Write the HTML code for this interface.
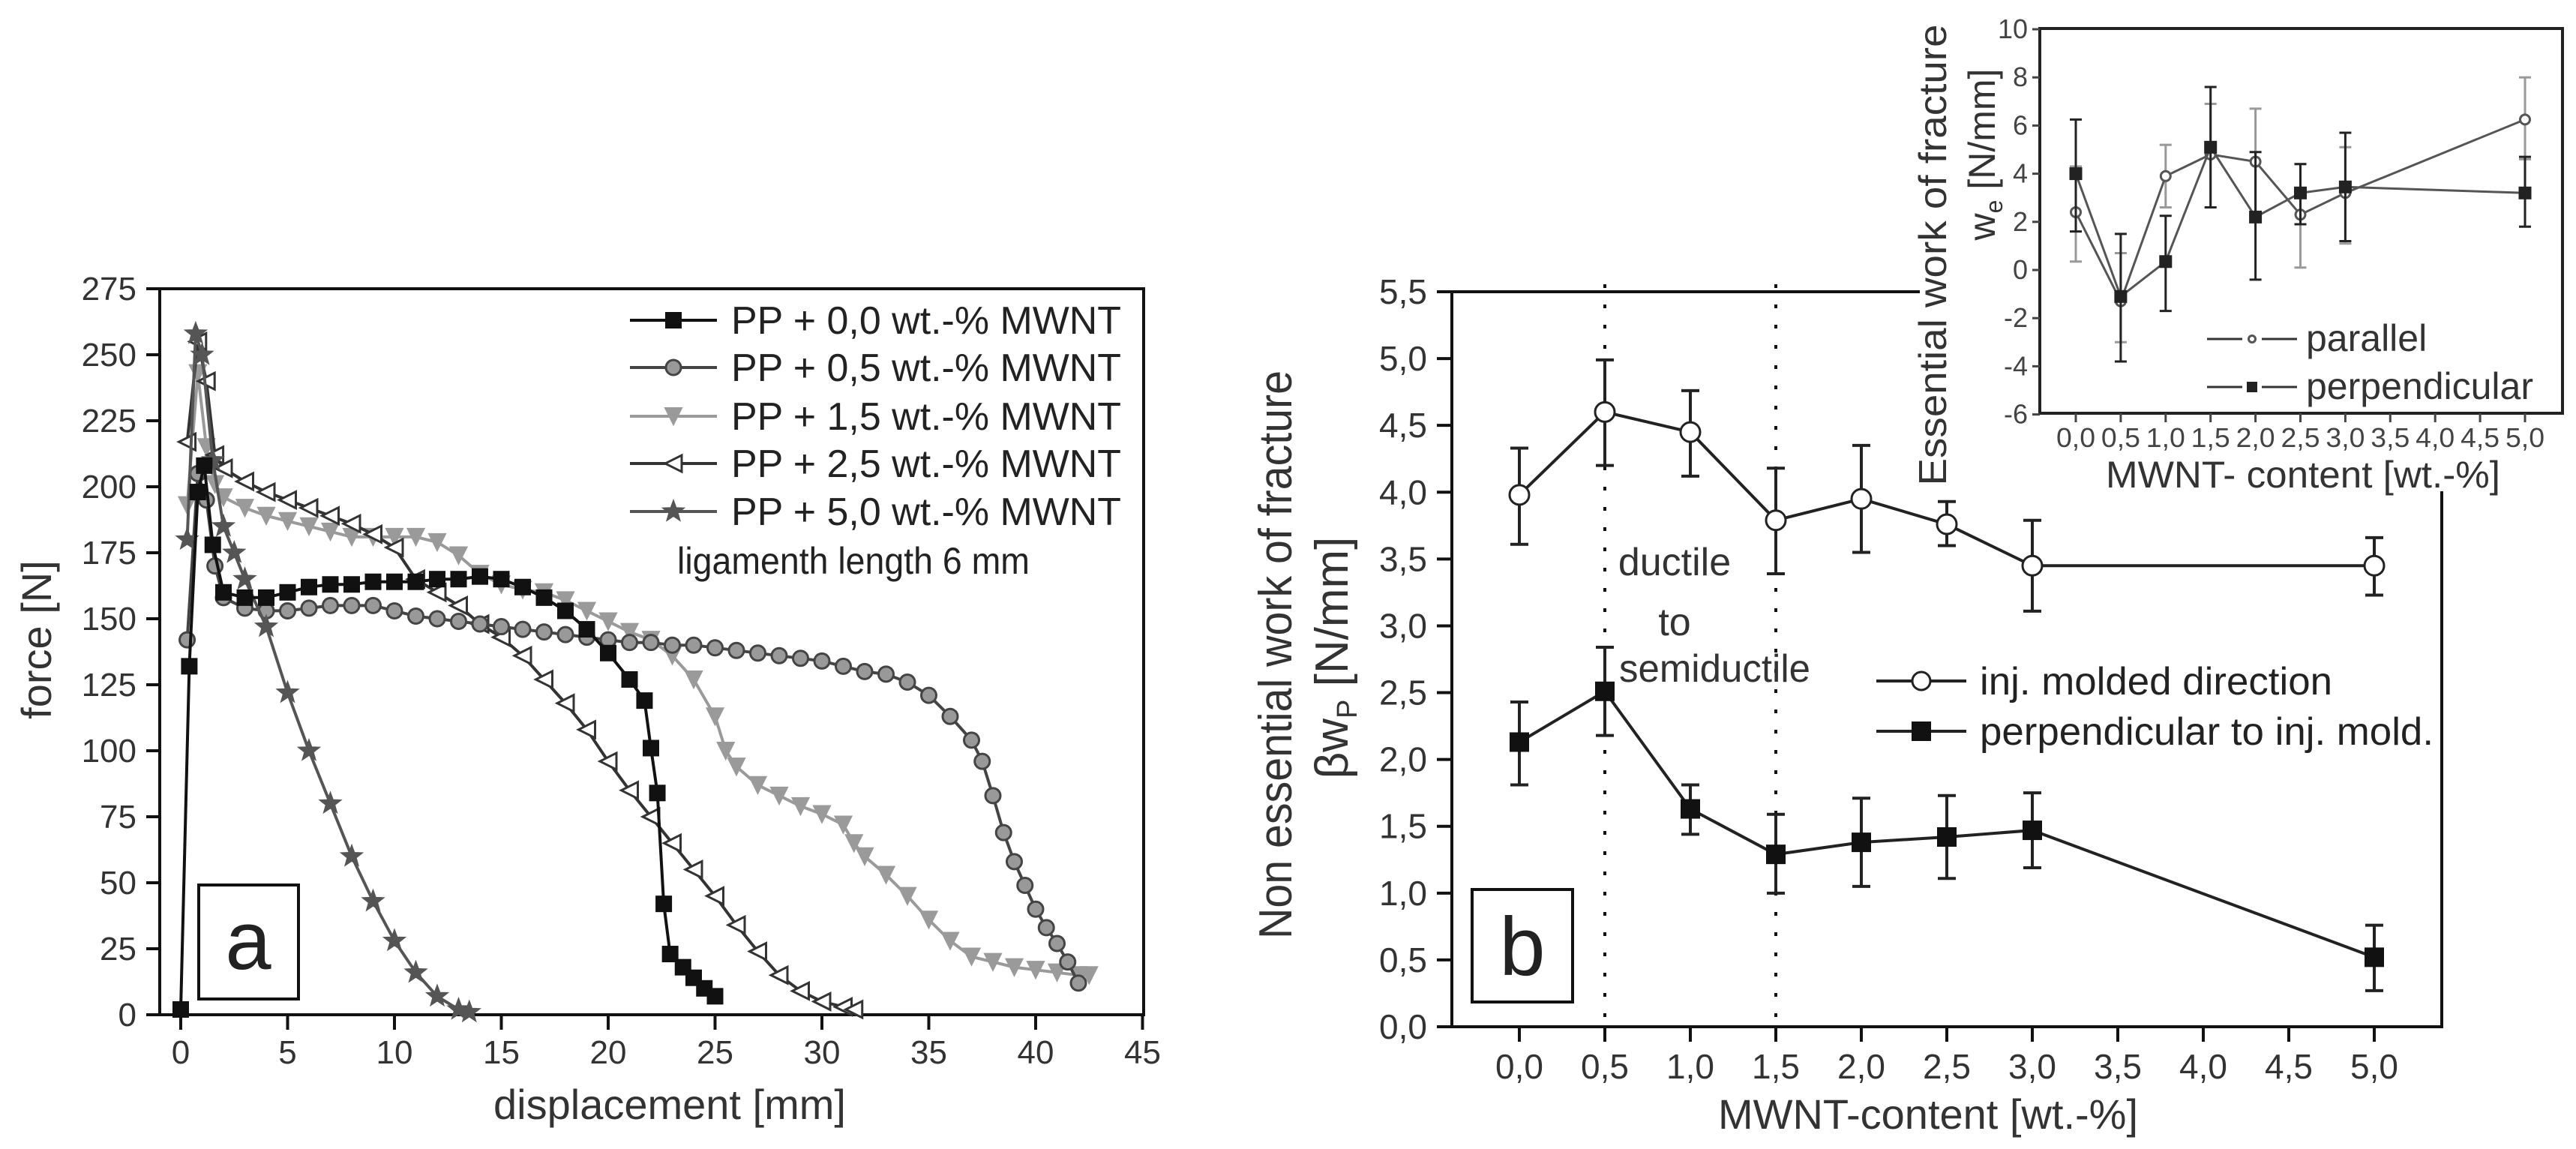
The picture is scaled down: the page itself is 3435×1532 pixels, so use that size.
<!DOCTYPE html>
<html><head><meta charset="utf-8"><title>Force-displacement curves and work of fracture</title>
<style>html,body{margin:0;padding:0;background:#fff;}svg{display:block;font-family:"Liberation Sans",Arial,sans-serif;}</style>
</head><body>
<svg id="fig" width="3435" height="1532" viewBox="0 0 3435 1532" xmlns="http://www.w3.org/2000/svg">
<rect width="3435" height="1532" fill="#fff"/>
<g id="pa"></g>
<g id="pb"></g>
<g id="pi"></g>
</svg>
<script>
// ---------- Panel a data ----------
const aXTicks = [0,5,10,15,20,25,30,35,40,45];
const aYTicks = [0,25,50,75,100,125,150,175,200,225,250,275];
const aSeriesNames = ["PP + 0,0 wt.-% MWNT","PP + 0,5 wt.-% MWNT","PP + 1,5 wt.-% MWNT","PP + 2,5 wt.-% MWNT","PP + 5,0 wt.-% MWNT"];
const a00x = [0,0.4,0.8,1.1,1.5,2,3,4,5,6,7,8,9,10,11,12,13,14,15,16,17,18,19,20,21,21.7,22,22.3,22.6,22.9,23.5,24,24.5,25];
const a00y = [2,132,198,208,178,160,158,158,160,162,163,163,164,164,164,165,165,166,165,162,158,153,146,137,127,119,101,84,42,23,18,14,10,7];
const a05x = [0.3,0.8,1.2,1.6,2,3,4,5,6,7,8,9,10,11,12,13,14,15,16,17,18,19,20,21,22,23,24,25,26,27,28,29,30,31,32,33,34,35,36,37,37.5,38,38.5,39,39.5,40,40.5,41,41.5,42];
const a05y = [142,205,195,170,158,154,153,153,154,155,155,155,153,151,150,149,148,147,146,145,144,143,142,141,141,140,140,139,138,137,136,135,134,132,130,129,126,121,113,104,96,83,69,58,49,40,33,27,20,12];
const a15x = [0.3,0.8,1.2,1.6,2,3,4,5,6,7,8,9,10,11,12,13,14,15,16,17,18,19,20,21,22,23,24,25,25.5,26,27,28,29,30,31,31.5,32,33,34,35,36,37,38,39,40,41,42,42.5];
const a15y = [193,243,215,201,196,192,189,187,185,183,181,181,181,181,179,174,167,163,161,160,157,153,149,145,142,136,127,113,100,94,87,83,79,76,72,65,60,53,45,36,28,22,20,18,17,16,15,15];
const a25x = [0.3,0.8,1.2,1.6,2,3,4,5,6,7,8,9,10,11,12,13,14,15,16,17,18,19,20,21,22,23,24,25,26,27,28,29,30,31,31.5];
const a25y = [217,255,240,212,207,202,198,195,192,189,186,182,177,165,160,155,148,143,136,127,118,108,96,85,75,65,55,45,34,24,15,9,5,3,2];
const a50x = [0.3,0.7,1,1.5,2,2.5,3,4,5,6,7,8,9,10,11,12,13,13.5];
const a50y = [180,258,250,210,185,175,165,147,122,100,80,60,43,28,16,7,2,1];

// ---------- Panel b data ----------
const bCats = [0,0.5,1,1.5,2,2.5,3,5];
const bXTicks = [0,0.5,1,1.5,2,2.5,3,3.5,4,4.5,5];
const bYTicks = [0,0.5,1,1.5,2,2.5,3,3.5,4,4.5,5,5.5];
const bInj = [3.98,4.6,4.45,3.79,3.95,3.76,3.45,3.45];
const bInjHi = [4.33,4.99,4.76,4.18,4.35,3.93,3.79,3.66];
const bInjLo = [3.61,4.2,4.12,3.39,3.55,3.6,3.11,3.23];
const bPer = [2.13,2.51,1.63,1.29,1.38,1.42,1.47,0.52];
const bPerHi = [2.43,2.84,1.81,1.59,1.71,1.73,1.75,0.76];
const bPerLo = [1.81,2.18,1.44,1.0,1.05,1.11,1.19,0.27];

// ---------- Inset data ----------
const iYTicks = [-6,-4,-2,0,2,4,6,8,10];
const iPar = [2.4,-1.3,3.9,4.8,4.5,2.3,3.2,6.25];
const iParHi = [4.3,0.7,5.2,6.9,6.7,4.4,5.1,8.0];
const iParLo = [0.35,-3.0,2.6,2.6,2.3,0.1,1.1,4.6];
const iPerp = [4.0,-1.1,0.35,5.1,2.2,3.2,3.45,3.2];
const iPerpHi = [6.25,1.5,2.25,7.6,4.9,4.4,5.7,4.7];
const iPerpLo = [1.6,-3.8,-1.7,2.6,-0.4,1.9,1.2,1.8];

const NS = "http://www.w3.org/2000/svg";
function mk(parent, tag, attrs, text){
  const e = document.createElementNS(NS, tag);
  for (const k in attrs) e.setAttribute(k, attrs[k]);
  if (text !== undefined) e.textContent = text;
  parent.appendChild(e);
  return e;
}
function fmt(v, d){ return v.toFixed(d).replace('.', ','); }
function marker(g, type, x, y, s, stroke, fill){
  let e;
  if (type === 'square') e = mk(g,'rect',{x:x-s/2,y:y-s/2,width:s,height:s,fill:fill,stroke:stroke,'stroke-width':2});
  else if (type === 'circle') e = mk(g,'circle',{cx:x,cy:y,r:s/2,fill:fill,stroke:stroke,'stroke-width':3});
  else if (type === 'tridown') e = mk(g,'polygon',{points:`${x-s/2},${y-s/2} ${x+s/2},${y-s/2} ${x},${y+s/2}`,fill:fill,stroke:stroke,'stroke-width':2});
  else if (type === 'trileft') e = mk(g,'polygon',{points:`${x+s/2},${y-s/2} ${x+s/2},${y+s/2} ${x-s/2},${y}`,fill:fill,stroke:stroke,'stroke-width':3});
  else {
    let p=[]; for(let i=0;i<10;i++){const r=i%2?s*0.25:s*0.6;const a=-Math.PI/2+i*Math.PI/5;p.push((x+r*Math.cos(a)).toFixed(1)+','+(y+r*Math.sin(a)).toFixed(1));}
    e = mk(g,'polygon',{points:p.join(' '),fill:fill,stroke:stroke,'stroke-width':1});
  }
  return e;
}

// ================= Panel A =================
(function(){
  const g = document.getElementById('pa');
  const L=213,R=1525,T=385,B=1353;
  const xs = v => 241 + v*28.5;
  const ys = v => B - v/275*(B-T);
  const frame = mk(g,'rect',{x:L,y:T,width:R-L,height:B-T,fill:'none',stroke:'#111','stroke-width':4});
  
  
  aXTicks.forEach(v=>{
    mk(g,'line',{x1:xs(v),x2:xs(v),y1:B,y2:B+20,stroke:'#111','stroke-width':4});
    const t = mk(g,'text',{x:xs(v),y:1418,'font-size':44,'text-anchor':'middle',fill:'#333'},String(v));
    
    
  });
  aYTicks.forEach(v=>{
    mk(g,'line',{x1:L-18,x2:L,y1:ys(v),y2:ys(v),stroke:'#111','stroke-width':4});
    const t = mk(g,'text',{x:182,y:ys(v)+15,'font-size':44,'text-anchor':'end',fill:'#333'},String(v));
    
    
  });
  const yt = mk(g,'text',{x:0,y:0,'font-size':56,'text-anchor':'middle',fill:'#333',transform:'translate(68,853) rotate(-90)'},'force [N]');
  
  
  const xt = mk(g,'text',{x:893,y:1492,'font-size':56,'text-anchor':'middle',fill:'#333'},'displacement [mm]');
  
  

  const styles = [
    {x:a00x,y:a00y,type:'square',line:'#111',ms:'#111',mf:'#111',s:20},
    {x:a05x,y:a05y,type:'circle',line:'#444',ms:'#444',mf:'#999',s:20},
    {x:a15x,y:a15y,type:'tridown',line:'#9a9a9a',ms:'#9a9a9a',mf:'#9a9a9a',s:22},
    {x:a25x,y:a25y,type:'trileft',line:'#333',ms:'#333',mf:'#fff',s:22},
    {x:a50x,y:a50y,type:'star',line:'#555',ms:'#555',mf:'#555',s:26}
  ];
  const order=[2,3,1,4,0];
  order.forEach(i=>{
    const st=styles[i];
    const sg = mk(g,'g',{});
    
    
    const pts = st.x.map((v,k)=>xs(v).toFixed(1)+','+ys(st.y[k]).toFixed(1)).join(' ');
    mk(sg,'polyline',{points:pts,fill:'none',stroke:st.line,'stroke-width':4});
    st.x.forEach((v,k)=>{
      const m = marker(sg,st.type,xs(v),ys(st.y[k]),st.s,st.ms,st.mf);
      
      
    });
  });
  // legend
  const rows=[427,490,555,618,682];
  styles.forEach((st,i)=>{
    const lg = mk(g,'g',{});
    
    
    mk(lg,'line',{x1:840,x2:956,y1:rows[i],y2:rows[i],stroke:st.line,'stroke-width':4});
    marker(lg,st.type,898,rows[i],st.s,st.ms,st.mf);
    mk(lg,'text',{x:975,y:rows[i]+18,'font-size':52,textLength:520,lengthAdjust:'spacingAndGlyphs',fill:'#222'},aSeriesNames[i]);
  });
  const lig = mk(g,'text',{x:903,y:765,'font-size':50,textLength:470,lengthAdjust:'spacingAndGlyphs',fill:'#222'},'ligamenth length 6 mm');
  
  
  const box = mk(g,'rect',{x:265,y:1180,width:133,height:152,fill:'#fff',stroke:'#111','stroke-width':4});
  
  
  const lab = mk(g,'text',{x:331,y:1292,'font-size':110,'text-anchor':'middle',fill:'#222'},'a');
  
  
})();

// ================= Panel B =================
(function(){
  const g = document.getElementById('pb');
  const L=1936,R=3256,T=389,B=1369;
  const xs = v => 2026 + v*228;
  const ys = v => B - v/5.5*(B-T);
  mk(g,'line',{x1:L,x2:R,y1:T,y2:T,stroke:'#111','stroke-width':4});
  mk(g,'line',{x1:L,x2:L,y1:T,y2:B,stroke:'#111','stroke-width':4});
  mk(g,'line',{x1:L,x2:R,y1:B,y2:B,stroke:'#111','stroke-width':4});
  mk(g,'line',{x1:R,x2:R,y1:T,y2:B+2,stroke:'#111','stroke-width':4});
  bXTicks.forEach(v=>{
    mk(g,'line',{x1:xs(v),x2:xs(v),y1:B,y2:B+20,stroke:'#111','stroke-width':4});
    const t = mk(g,'text',{x:xs(v),y:1438,'font-size':46,'text-anchor':'middle',fill:'#333'},fmt(v,1));
    
    
  });
  bYTicks.forEach(v=>{
    mk(g,'line',{x1:L-20,x2:L,y1:ys(v),y2:ys(v),stroke:'#111','stroke-width':4});
    const t = mk(g,'text',{x:1903,y:ys(v)+16,'font-size':46,'text-anchor':'end',fill:'#333'},fmt(v,1));
    
    
  });
  [0.5,1.5].forEach(v=>{
    const d = mk(g,'line',{x1:xs(v),x2:xs(v),y1:T-10,y2:B,stroke:'#111','stroke-width':4,'stroke-dasharray':'5 22'});
    
    
  });
  const t1=mk(g,'text',{x:2233,y:767,'font-size':52,'text-anchor':'middle',fill:'#333'},'ductile');
   
  const t2=mk(g,'text',{x:2233,y:847,'font-size':52,'text-anchor':'middle',fill:'#333'},'to');
   
  const t3=mk(g,'text',{x:2159,y:909,'font-size':52,textLength:255,lengthAdjust:'spacingAndGlyphs',fill:'#333'},'semiductile');
   

  function series(vals,hi,lo,type,name){
    const sg = mk(g,'g',{});
    
    
    bCats.forEach((c,k)=>{
      mk(sg,'line',{x1:xs(c),x2:xs(c),y1:ys(hi[k]),y2:ys(lo[k]),stroke:'#222','stroke-width':4});
      mk(sg,'line',{x1:xs(c)-12,x2:xs(c)+12,y1:ys(hi[k]),y2:ys(hi[k]),stroke:'#222','stroke-width':4});
      mk(sg,'line',{x1:xs(c)-12,x2:xs(c)+12,y1:ys(lo[k]),y2:ys(lo[k]),stroke:'#222','stroke-width':4});
    });
    mk(sg,'polyline',{points:bCats.map((c,k)=>xs(c)+','+ys(vals[k])).join(' '),fill:'none',stroke:'#222','stroke-width':4});
    bCats.forEach((c,k)=>{
      const m = type==='circle' ? marker(sg,'circle',xs(c),ys(vals[k]),26,'#222','#fff') : marker(sg,'square',xs(c),ys(vals[k]),24,'#111','#111');
      
      
    });
  }
  series(bInj,bInjHi,bInjLo,'circle','series-inj-molded');
  series(bPer,bPerHi,bPerLo,'square','series-perpendicular');

  const lg1 = mk(g,'g',{});  
  mk(lg1,'line',{x1:2502,x2:2622,y1:908,y2:908,stroke:'#222','stroke-width':4});
  marker(lg1,'circle',2562,908,24,'#222','#fff');
  mk(lg1,'text',{x:2640,y:926,'font-size':52,textLength:470,lengthAdjust:'spacingAndGlyphs',fill:'#222'},'inj. molded direction');
  const lg2 = mk(g,'g',{});  
  mk(lg2,'line',{x1:2502,x2:2622,y1:975,y2:975,stroke:'#222','stroke-width':4});
  marker(lg2,'square',2562,975,24,'#111','#111');
  mk(lg2,'text',{x:2640,y:993,'font-size':52,textLength:605,lengthAdjust:'spacingAndGlyphs',fill:'#222'},'perpendicular to inj. mold.');

  const yt1 = mk(g,'text',{x:0,y:0,'font-size':62,'text-anchor':'middle',textLength:758,lengthAdjust:'spacingAndGlyphs',fill:'#333',transform:'translate(1722,873) rotate(-90)'},'Non essential work of fracture');
   
  const yt2 = mk(g,'text',{x:0,y:0,'font-size':62,'text-anchor':'middle',fill:'#333',transform:'translate(1797,877) rotate(-90)'});
   
  yt2.textContent='βw';
  mk(yt2,'tspan',{'font-size':38,dy:12},'P');
  mk(yt2,'tspan',{dy:-12},' [N/mm]');
  const xt = mk(g,'text',{x:2571,y:1505,'font-size':56,'text-anchor':'middle',fill:'#333'},'MWNT-content [wt.-%]');
   
  const box = mk(g,'rect',{x:1963,y:1186,width:134,height:150,fill:'#fff',stroke:'#111','stroke-width':4});
   
  const lab = mk(g,'text',{x:2030,y:1300,'font-size':110,'text-anchor':'middle',fill:'#222'},'b');
   
})();

// ================= Inset =================
(function(){
  const g = document.getElementById('pi');
  mk(g,'rect',{x:2560,y:0,width:875,height:655,fill:'#fff'});
  const L=2720,R=3417,T=38,B=551;
  const xs = v => 2768 + v*119.8;
  const ys = v => 360 - v*32.1;
  const fr = mk(g,'rect',{x:L,y:T,width:R-L,height:B-T,fill:'none',stroke:'#222','stroke-width':4});
   
  bXTicks.forEach(v=>{
    mk(g,'line',{x1:xs(v),x2:xs(v),y1:B,y2:B+12,stroke:'#444','stroke-width':3});
    const t = mk(g,'text',{x:xs(v),y:596,'font-size':36,'text-anchor':'middle',textLength:52,lengthAdjust:'spacingAndGlyphs',fill:'#444'},fmt(v,1));
     
  });
  iYTicks.forEach(v=>{
    mk(g,'line',{x1:L-10,x2:L,y1:ys(v),y2:ys(v),stroke:'#444','stroke-width':3});
    const t = mk(g,'text',{x:2704,y:ys(v)+12,'font-size':36,'text-anchor':'end',fill:'#444'},String(v));
     
  });
  function series(vals,hi,lo,type,col,name){
    const sg = mk(g,'g',{});
    
    
    bCats.forEach((c,k)=>{
      mk(sg,'line',{x1:xs(c),x2:xs(c),y1:ys(hi[k]),y2:ys(lo[k]),stroke:col,'stroke-width':3});
      mk(sg,'line',{x1:xs(c)-8,x2:xs(c)+8,y1:ys(hi[k]),y2:ys(hi[k]),stroke:col,'stroke-width':3});
      mk(sg,'line',{x1:xs(c)-8,x2:xs(c)+8,y1:ys(lo[k]),y2:ys(lo[k]),stroke:col,'stroke-width':3});
    });
    mk(sg,'polyline',{points:bCats.map((c,k)=>xs(c)+','+ys(vals[k])).join(' '),fill:'none',stroke:'#555','stroke-width':3});
    bCats.forEach((c,k)=>{
      const m = type==='circle' ? marker(sg,'circle',xs(c),ys(vals[k]),13,'#555','#fff') : marker(sg,'square',xs(c),ys(vals[k]),15,'#222','#222');
      
      
    });
  }
  series(iPar,iParHi,iParLo,'circle','#999','inset-series-parallel');
  series(iPerp,iPerpHi,iPerpLo,'square','#222','inset-series-perpendicular');
  const l1 = mk(g,'g',{});  
  mk(l1,'line',{x1:2943,x2:2990,y1:452,y2:452,stroke:'#333','stroke-width':3});
  mk(l1,'line',{x1:3016,x2:3063,y1:452,y2:452,stroke:'#333','stroke-width':3});
  marker(l1,'circle',3003,452,9,'#555','#fff');
  mk(l1,'text',{x:3075,y:468,'font-size':50,fill:'#333'},'parallel');
  const l2 = mk(g,'g',{});  
  mk(l2,'line',{x1:2943,x2:2990,y1:516,y2:516,stroke:'#333','stroke-width':3});
  mk(l2,'line',{x1:3016,x2:3063,y1:516,y2:516,stroke:'#333','stroke-width':3});
  marker(l2,'square',3003,516,12,'#222','#222');
  mk(l2,'text',{x:3075,y:532,'font-size':50,fill:'#333'},'perpendicular');
  const xt = mk(g,'text',{x:3071,y:650,'font-size':50,'text-anchor':'middle',textLength:526,lengthAdjust:'spacingAndGlyphs',fill:'#333'},'MWNT- content [wt.-%]');
   
  const yt = mk(g,'text',{x:0,y:0,'font-size':52,'text-anchor':'middle',textLength:615,lengthAdjust:'spacingAndGlyphs',fill:'#333',transform:'translate(2595,340) rotate(-90)'},'Essential work of fracture');
   
  const yt2 = mk(g,'text',{x:0,y:0,'font-size':50,'text-anchor':'middle',fill:'#333',transform:'translate(2660,206) rotate(-90)'});
   
  yt2.textContent='w';
  mk(yt2,'tspan',{'font-size':32,dy:10},'e');
  mk(yt2,'tspan',{dy:-10},' [N/mm]');
})();
</script>
</body></html>
